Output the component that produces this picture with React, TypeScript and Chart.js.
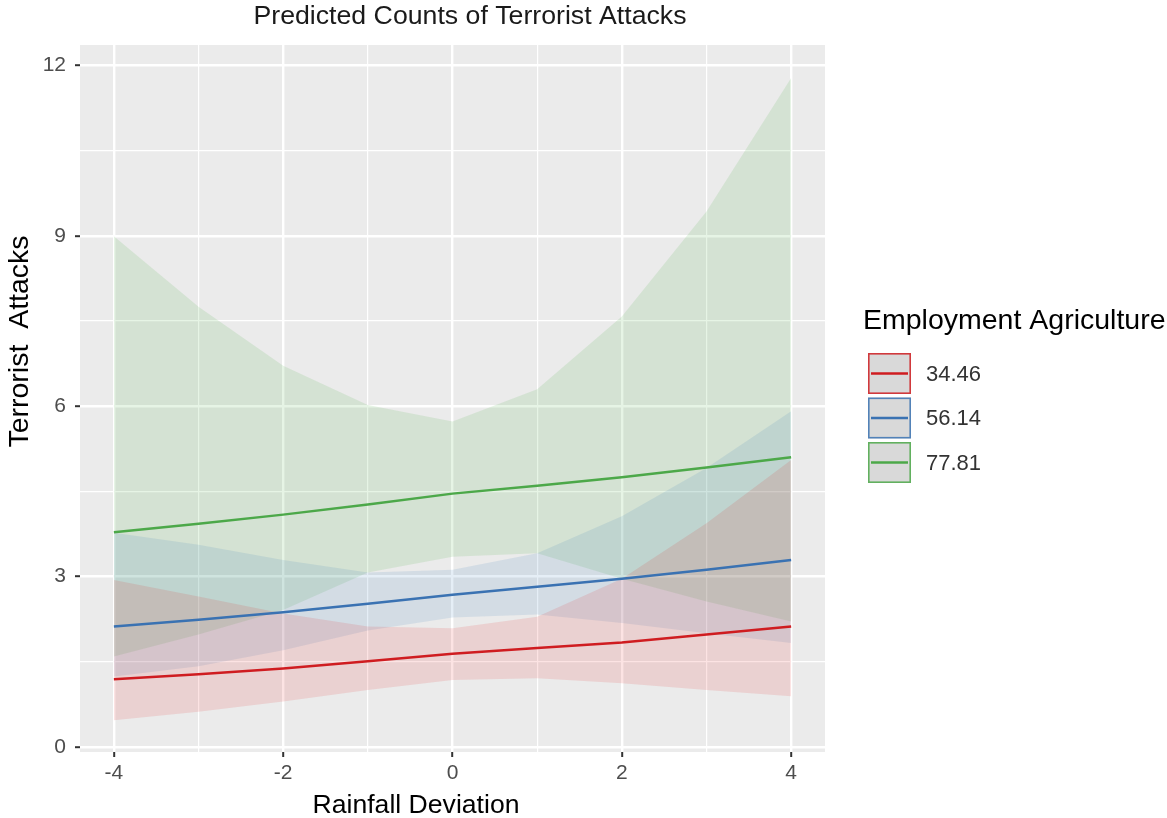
import React, { useEffect, useRef } from 'react';
import { Chart, registerables } from 'chart.js';

Chart.register(...registerables);

// ---------- data ----------
const rainfall = [-4, -3, -2, -1, 0, 1, 2, 3, 4];
const groupLabels = ['34.46', '56.14', '77.81'];

const fit34 = [1.19, 1.28, 1.38, 1.51, 1.64, 1.74, 1.84, 1.98, 2.12];
const low34 = [0.47, 0.62, 0.8, 1.0, 1.18, 1.21, 1.12, 1.0, 0.89];
const high34 = [2.94, 2.65, 2.35, 2.12, 2.09, 2.29, 2.96, 3.94, 5.05];

const fit56 = [2.12, 2.24, 2.37, 2.52, 2.68, 2.82, 2.96, 3.12, 3.29];
const low56 = [1.24, 1.42, 1.7, 2.05, 2.28, 2.33, 2.18, 2.0, 1.83];
const high56 = [3.77, 3.56, 3.29, 3.07, 3.12, 3.41, 4.06, 4.91, 5.91];

const fit78 = [3.78, 3.93, 4.09, 4.27, 4.46, 4.6, 4.75, 4.92, 5.1];
const low78 = [1.59, 1.98, 2.41, 3.07, 3.35, 3.41, 2.96, 2.56, 2.21];
const high78 = [8.99, 7.75, 6.71, 6.02, 5.73, 6.3, 7.58, 9.43, 11.78];

const xTickLabels = ['-4', '-2', '0', '2', '4'];
const yTickLabels = ['0', '3', '6', '9', '12'];

const titleText = 'Predicted Counts of Terrorist Attacks';
const xTitleText = 'Rainfall Deviation';
const yTitleText = 'Terrorist  Attacks';
const legendTitleText = 'Employment Agriculture';

// ---------- styles ----------
const FONT = '"Liberation Sans", Arial, Helvetica, sans-serif';
const lineColors = ['#CF1C20', '#3A72B2', '#4CA849'];
const ribbonColors = ['rgba(228,26,28,0.12)', 'rgba(55,126,184,0.13)', 'rgba(77,175,74,0.14)'];

const toPts = (ys: number[]) => rainfall.map((x, i) => ({ x, y: ys[i] }));

const groups = [
  { fit: fit34, low: low34, high: high34 },
  { fit: fit56, low: low56, high: high56 },
  { fit: fit78, low: low78, high: high78 },
];

const decorPlugin = {
  id: 'ggDecor',
  beforeDraw(chart: any) {
    const { ctx, chartArea: a } = chart;
    ctx.save();
    ctx.fillStyle = '#EBEBEB';
    ctx.fillRect(a.left, a.top, a.right - a.left, a.bottom - a.top);
    ctx.restore();
  },
  afterDraw(chart: any) {
    const ctx = chart.ctx as CanvasRenderingContext2D;
    ctx.save();
    // title
    ctx.fillStyle = '#1A1A1A';
    ctx.textAlign = 'center';
    ctx.textBaseline = 'alphabetic';
    ctx.font = `26.7px ${FONT}`;
    ctx.fillText(titleText, 470, 24);
    // axis titles
    ctx.fillStyle = '#000000';
    ctx.font = `26.6px ${FONT}`;
    ctx.fillText(xTitleText, 416, 813);
    ctx.save();
    ctx.translate(28, 341.5);
    ctx.rotate(-Math.PI / 2);
    ctx.font = `28.5px ${FONT}`;
    ctx.fillText(yTitleText, 0, 0);
    ctx.restore();
    // legend
    ctx.textAlign = 'left';
    ctx.font = `28.5px ${FONT}`;
    ctx.fillText(legendTitleText, 863, 329);
    groupLabels.forEach((lab, i) => {
      const y0 = 353 + i * 44.5;
      const x0 = 868;
      const w = 43;
      const h = 41;
      ctx.fillStyle = '#D9D9D9';
      ctx.fillRect(x0, y0, w, h);
      ctx.strokeStyle = lineColors[i];
      ctx.globalAlpha = 0.85;
      ctx.lineWidth = 1.6;
      ctx.strokeRect(x0 + 0.8, y0 + 0.8, w - 1.6, h - 1.6);
      ctx.globalAlpha = 1;
      ctx.lineWidth = 2.4;
      ctx.beginPath();
      ctx.moveTo(x0 + 3, y0 + h / 2);
      ctx.lineTo(x0 + w - 3, y0 + h / 2);
      ctx.stroke();
      ctx.fillStyle = '#333333';
      ctx.font = `22px ${FONT}`;
      ctx.textBaseline = 'middle';
      ctx.fillText(lab, 926, y0 + h / 2 + 1);
      ctx.textBaseline = 'alphabetic';
    });
    ctx.restore();
  },
};

export default function App() {
  const ref = useRef<HTMLCanvasElement>(null);

  useEffect(() => {
    const datasets: any[] = [];
    groups.forEach((g, i) => {
      datasets.push({
        label: `high-${groupLabels[i]}`,
        data: toPts(g.high),
        borderWidth: 0,
        pointRadius: 0,
        fill: false,
        tension: 0,
      });
      datasets.push({
        label: `low-${groupLabels[i]}`,
        data: toPts(g.low),
        borderWidth: 0,
        pointRadius: 0,
        backgroundColor: ribbonColors[i],
        fill: '-1',
        tension: 0,
      });
    });
    groups.forEach((g, i) => {
      datasets.push({
        label: groupLabels[i],
        data: toPts(g.fit),
        borderColor: lineColors[i],
        borderWidth: 2.5,
        pointRadius: 0,
        fill: false,
        tension: 0,
      });
    });

    const isMajorY = (v: number) => yTickLabels.includes(String(v));
    const isMajorX = (v: number) => xTickLabels.includes(String(v));

    const chart = new Chart(ref.current as HTMLCanvasElement, {
      type: 'line',
      data: { datasets },
      plugins: [decorPlugin],
      options: {
        responsive: false,
        animation: false,
        devicePixelRatio: 1,
        layout: { padding: { top: 45, right: 342, left: 0, bottom: 0 } },
        plugins: {
          legend: { display: false },
          title: { display: false },
          tooltip: { enabled: false },
          filler: { propagate: false, drawTime: 'beforeDatasetsDraw' },
        } as any,
        scales: {
          x: {
            type: 'linear',
            min: -4.4,
            max: 4.4,
            afterFit: (s: any) => {
              s.height = 66;
            },
            border: { display: false },
            grid: {
              color: '#FFFFFF',
              lineWidth: (c: any) => (c.tick && isMajorX(c.tick.value) ? 2.4 : 1.2),
              tickLength: 5,
              tickColor: (c: any) => (c.tick && isMajorX(c.tick.value) ? '#333333' : 'rgba(0,0,0,0)'),
              tickWidth: 2,
            } as any,
            ticks: {
              stepSize: 1,
              includeBounds: false,
              autoSkip: false,
              maxRotation: 0,
              padding: 4,
              color: '#4D4D4D',
              font: { family: FONT, size: 21 },
              callback: (v: any) => (isMajorX(Number(v)) ? String(v) : ''),
            } as any,
          },
          y: {
            type: 'linear',
            min: -0.09,
            max: 12.36,
            afterFit: (s: any) => {
              s.width = 80;
            },
            border: { display: false },
            grid: {
              color: '#FFFFFF',
              lineWidth: (c: any) => (c.tick && isMajorY(c.tick.value) ? 2.4 : 1.2),
              tickLength: 5,
              tickColor: (c: any) => (c.tick && isMajorY(c.tick.value) ? '#333333' : 'rgba(0,0,0,0)'),
              tickWidth: 2,
            } as any,
            ticks: {
              stepSize: 1.5,
              includeBounds: false,
              autoSkip: false,
              padding: 9,
              color: '#4D4D4D',
              font: { family: FONT, size: 21 },
              callback: (v: any) => (isMajorY(Number(v)) ? String(v) : ''),
            } as any,
          },
        },
      },
    });
    return () => chart.destroy();
  }, []);

  return (
    <div style={{ position: 'fixed', left: 0, top: 0, width: 1167, height: 818, background: '#FFFFFF' }}>
      <canvas ref={ref} width={1167} height={818} style={{ display: 'block', width: 1167, height: 818 }} />
    </div>
  );
}
